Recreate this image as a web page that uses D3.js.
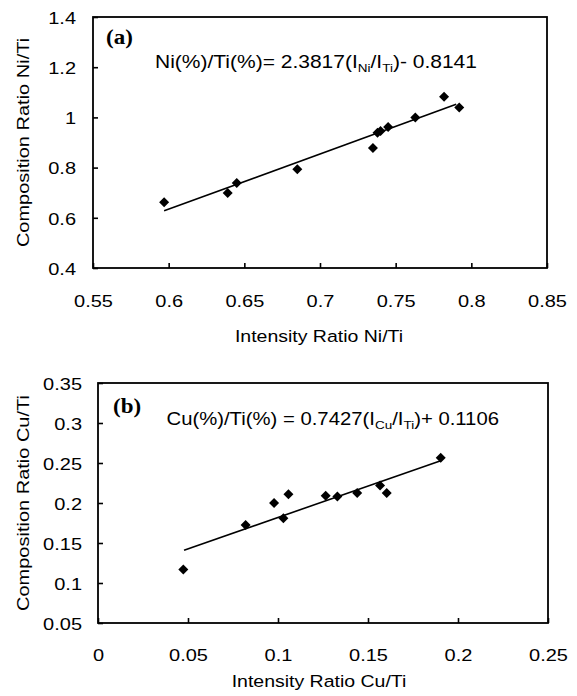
<!DOCTYPE html>
<html><head><meta charset="utf-8">
<script src="https://cdn.jsdelivr.net/npm/d3@7"></script>
<style>body{margin:0;background:#fff}svg{display:block}</style>
</head><body><svg id="c" width="577" height="696"></svg>
<script>
// ---- Panel (a) data: Ni/Ti ----
const niIntensity   = [0.597, 0.639, 0.645, 0.685, 0.735, 0.738, 0.740, 0.745, 0.763, 0.782, 0.792];
const niComposition = [0.662, 0.699, 0.739, 0.793, 0.878, 0.939, 0.946, 0.962, 1.000, 1.082, 1.039];
const niFitX = [0.597, 0.790];
const niFitY = [0.628, 1.052];
const niXTicks = [0.55, 0.6, 0.65, 0.7, 0.75, 0.8, 0.85];
const niXTickLabels = ["0.55", "0.6", "0.65", "0.7", "0.75", "0.8", "0.85"];
const niYTicks = [0.4, 0.6, 0.8, 1.0, 1.2, 1.4];
const niYTickLabels = ["0.4", "0.6", "0.8", "1", "1.2", "1.4"];

// ---- Panel (b) data: Cu/Ti ----
const cuIntensity   = [0.0474, 0.082, 0.0978, 0.103, 0.1058, 0.1265, 0.133, 0.144, 0.1567, 0.1604, 0.1904];
const cuComposition = [0.117, 0.1725, 0.200, 0.181, 0.211, 0.209, 0.208, 0.2125, 0.222, 0.2125, 0.2567];
const cuFitX = [0.0478, 0.1904];
const cuFitY = [0.141, 0.2529];
const cuXTicks = [0, 0.05, 0.1, 0.15, 0.2, 0.25];
const cuXTickLabels = ["0", "0.05", "0.1", "0.15", "0.2", "0.25"];
const cuYTicks = [0.05, 0.1, 0.15, 0.2, 0.25, 0.3, 0.35];
const cuYTickLabels = ["0.05", "0.1", "0.15", "0.2", "0.25", "0.3", "0.35"];

const SANS = "'Liberation Sans', Arial, Helvetica, sans-serif";
const SERIF = "'Liberation Serif', 'Times New Roman', serif";
const SQ = 0.87; // vertical squash of glyphs to match the reference's wide lettering

const svg = d3.select("#c");

function panel(cfg) {
  const {left, right, top, bottom} = cfg.box;
  const x = d3.scaleLinear().domain(cfg.xDomain).range([left, right]);
  const y = d3.scaleLinear().domain(cfg.yDomain).range([bottom, top]);
  const g = svg.append("g");

  // axes with inward ticks
  const xa = g.append("g").attr("transform", `translate(0,${bottom})`)
    .call(d3.axisBottom(x).tickValues(cfg.xTicks)
      .tickFormat((d, i) => cfg.xLabels[i]).tickSizeInner(-5).tickSizeOuter(0));
  const ya = g.append("g").attr("transform", `translate(${left},0)`)
    .call(d3.axisLeft(y).tickValues(cfg.yTicks)
      .tickFormat((d, i) => cfg.yLabels[i]).tickSizeInner(-5).tickSizeOuter(0));
  [xa, ya].forEach(a => {
    a.select(".domain").remove();
    a.selectAll("line").attr("stroke", "#000").attr("stroke-width", 1.6);
    a.selectAll("text").attr("fill", "#000").style("font-family", SANS).style("font-size", "20px");
  });
  xa.selectAll("text").attr("y", null).attr("dy", null)
    .attr("text-anchor", "middle")
    .attr("transform", `translate(0,${cfg.xLabelOffset}) scale(1,${SQ})`);
  ya.selectAll("text").attr("x", null).attr("dy", null)
    .attr("text-anchor", "end")
    .attr("transform", `translate(${-cfg.yLabelGap},6.2) scale(1,${SQ})`);

  // frame
  g.append("rect").attr("x", left).attr("y", top)
    .attr("width", right - left).attr("height", bottom - top)
    .attr("fill", "none").attr("stroke", "#000").attr("stroke-width", 1.8);

  // trend line
  const fit = cfg.fitX.map((v, i) => [v, cfg.fitY[i]]);
  g.append("path").datum(fit)
    .attr("d", d3.line().x(d => x(d[0])).y(d => y(d[1])))
    .attr("fill", "none").attr("stroke", "#000").attr("stroke-width", 1.6);

  // points
  const pts = cfg.px.map((v, i) => [v, cfg.py[i]]);
  g.selectAll("path.pt").data(pts).join("path").attr("class", "pt")
    .attr("d", d3.symbol(d3.symbolSquare, 50))
    .attr("transform", d => `translate(${x(d[0])},${y(d[1])}) rotate(45)`)
    .attr("fill", "#000");

  // panel tag
  g.append("text").text(cfg.tag)
    .attr("transform", `translate(${cfg.tagPos[0]},${cfg.tagPos[1]}) scale(1,${SQ})`)
    .style("font-family", SERIF).style("font-weight", "bold").style("font-size", "23px");

  // equation
  const eq = g.append("text")
    .attr("transform", `translate(${cfg.eqPos[0]},${cfg.eqPos[1]}) scale(1,${SQ})`)
    .style("font-family", SANS).style("font-size", cfg.eqSize + "px").attr("fill", "#000");
  cfg.eqParts.forEach(p => {
    const t = eq.append("tspan").text(p.t);
    if (p.sub) t.style("font-size", "13.5px").attr("dy", 5);
    else if (p.after) t.attr("dy", -5);
  });

  // axis titles
  g.append("text").text(cfg.xTitle)
    .attr("transform", `translate(${cfg.xTitlePos[0]},${cfg.xTitlePos[1]}) scale(1,${SQ})`)
    .attr("text-anchor", "middle")
    .style("font-family", SANS).style("font-size", "19.5px");
  g.append("text").text(cfg.yTitle)
    .attr("transform", `translate(${cfg.yTitleX},${(top + bottom) / 2}) rotate(-90) scale(1,${SQ})`)
    .attr("text-anchor", "middle")
    .style("font-family", SANS).style("font-size", "20px");
}

panel({
  box: {left: 93, right: 547, top: 17, bottom: 268},
  xDomain: [0.55, 0.85], yDomain: [0.4, 1.4],
  xTicks: niXTicks, xLabels: niXTickLabels, yTicks: niYTicks, yLabels: niYTickLabels,
  xLabelOffset: 39, yLabelGap: 17,
  px: niIntensity, py: niComposition, fitX: niFitX, fitY: niFitY,
  tag: "(a)", tagPos: [106, 44],
  eqPos: [155, 68], eqSize: 21,
  eqParts: [{t: "Ni(%)/Ti(%)= 2.3817(I"}, {t: "Ni", sub: true}, {t: "/I", after: true},
            {t: "Ti", sub: true}, {t: ")- 0.8141", after: true}],
  xTitle: "Intensity Ratio Ni/Ti", xTitlePos: [319, 342],
  yTitle: "Composition Ratio Ni/Ti", yTitleX: 28.5
});

panel({
  box: {left: 98, right: 548, top: 383, bottom: 623},
  xDomain: [0, 0.25], yDomain: [0.05, 0.35],
  xTicks: cuXTicks, xLabels: cuXTickLabels, yTicks: cuYTicks, yLabels: cuYTickLabels,
  xLabelOffset: 38, yLabelGap: 16,
  px: cuIntensity, py: cuComposition, fitX: cuFitX, fitY: cuFitY,
  tag: "(b)", tagPos: [113, 413],
  eqPos: [166.5, 425], eqSize: 20.3,
  eqParts: [{t: "Cu(%)/Ti(%) = 0.7427(I"}, {t: "Cu", sub: true}, {t: "/I", after: true},
            {t: "Ti", sub: true}, {t: ")+ 0.1106", after: true}],
  xTitle: "Intensity Ratio Cu/Ti", xTitlePos: [319, 687],
  yTitle: "Composition Ratio Cu/Ti", yTitleX: 28.5
});
</script>
</body></html>
